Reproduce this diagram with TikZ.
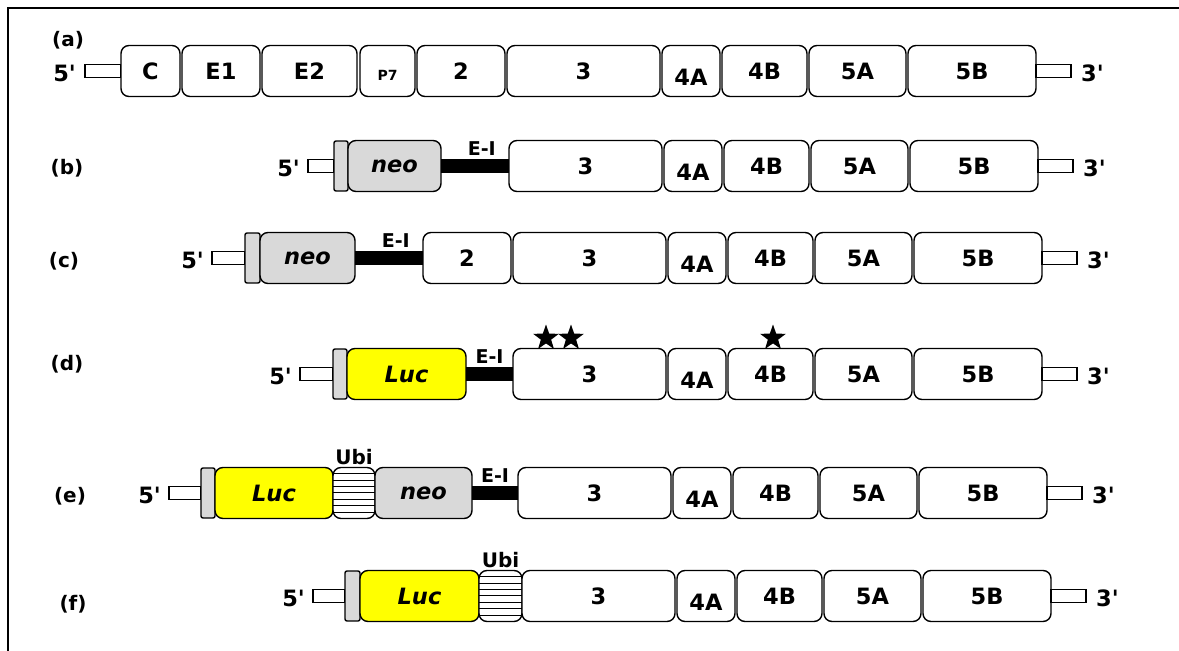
\documentclass[tikz,border=0pt]{standalone}
\usepackage{fontspec}
\setmainfont[Ligatures=TeXOff]{DejaVu Sans}
\usepackage{xcolor}
\usetikzlibrary{positioning,shapes.geometric}
\definecolor{lucyellow}{HTML}{FFFF00}
\definecolor{neogrey}{HTML}{D9D9D9}
\newcommand{\segfont}{\fontsize{22.5}{26}\selectfont\bfseries}
\newcommand{\dropped}[2]{\raisebox{-#1}[\height][\depth]{#2}}

\begin{document}
\begin{tikzpicture}[
    x=1pt, y=-1pt,
    seg/.style={draw, line width=1.4pt, rounded corners=8pt, minimum width=#1pt, minimum height=51pt, inner sep=0pt, outer sep=0pt, fill=white, font=\segfont},
    capbox/.style={draw, line width=1.4pt, rounded corners=2pt, minimum width=#1pt, minimum height=50pt, inner sep=0pt, outer sep=0pt, fill=neogrey},
    neo/.style={seg=#1, fill=neogrey, font=\segfont\itshape},
    luc/.style={seg=#1, fill=lucyellow, font=\segfont\itshape},
    ubi/.style={seg=#1, path picture={
        \foreach \k in {1,...,7}
          \draw[line width=1pt] ([yshift=\k*6.4pt]path picture bounding box.south west) -- ([yshift=\k*6.4pt]path picture bounding box.south east);}},
    tailbox/.style={draw, line width=1.4pt, minimum width=#1pt, minimum height=13pt, inner sep=0pt, outer sep=0pt, fill=white},
    endlbl/.style={font=\segfont, inner sep=0pt, yshift=-2pt},
    rowlbl/.style={font=\fontsize{20}{24}\selectfont\bfseries, inner sep=0pt},
    ei/.style={line width=14pt},
    eilbl/.style={font=\fontsize{19}{22}\selectfont\bfseries, inner sep=0pt, above=4pt},
    ubilbl/.style={font=\fontsize{20}{24}\selectfont\bfseries, inner sep=0pt},
    mut/.style={star, star points=5, star point ratio=2.5, fill=black, minimum size=27pt, inner sep=0pt},
]
\useasboundingbox (0,0) rectangle (1179,651);
\draw[line width=2pt] (8,651) -- (8,8) -- (1179,8);

% (a) full genome
\node[rowlbl] (la) at (68,40) {(a)};
\node[tailbox=36, anchor=west] (a5t) at (85,71) {};
\node[endlbl, left=9pt of a5t] (a5) {5'};
\node[seg=59, right=0pt of a5t] (aC) {C};
\node[seg=78, right=2pt of aC] (aE1) {E1};
\node[seg=95, right=2pt of aE1] (aE2) {E2};
\node[seg=55, right=3pt of aE2, font=\fontsize{14}{16}\selectfont\bfseries] (aP7) {\dropped{4pt}{P7}};
\node[seg=88, right=2pt of aP7] (a2) {2};
\node[seg=153, right=2pt of a2] (a3) {3};
\node[seg=58, right=2pt of a3] (a4A) {\dropped{6pt}{4A}};
\node[seg=85, right=2pt of a4A] (a4B) {4B};
\node[seg=97, right=2pt of a4B] (a5A) {5A};
\node[seg=128, right=2pt of a5A] (a5B) {5B};
\node[tailbox=35, right=0pt of a5B] (a3t) {};
\node[endlbl, right=10pt of a3t] (a3p) {3'};

% (b) neo replicon
\node[rowlbl] (lb) at (67,168) {(b)};
\node[tailbox=26, anchor=west] (b5t) at (308,166) {};
\node[endlbl, left=8pt of b5t] (b5) {5'};
\node[capbox=14, right=0pt of b5t] (bcap) {};
\node[neo=93, right=0pt of bcap] (bneo) {neo};
\node[seg=153, right=68pt of bneo] (b3) {3};
\node[seg=58, right=2pt of b3] (b4A) {\dropped{6pt}{4A}};
\node[seg=85, right=2pt of b4A] (b4B) {4B};
\node[seg=97, right=2pt of b4B] (b5A) {5A};
\node[seg=128, right=2pt of b5A] (b5B) {5B};
\node[tailbox=35, right=0pt of b5B] (b3t) {};
\node[endlbl, right=10pt of b3t] (b3p) {3'};
\draw[ei] (bneo) -- (b3) node[eilbl, pos=0.6] {E-I};

% (c) neo replicon with NS2
\node[rowlbl] (lc) at (64,261) {(c)};
\node[tailbox=33, anchor=west] (c5t) at (212,258) {};
\node[endlbl, left=8pt of c5t] (c5) {5'};
\node[capbox=15, right=0pt of c5t] (ccap) {};
\node[neo=95, right=0pt of ccap] (cneo) {neo};
\node[seg=88, right=68pt of cneo] (c2) {2};
\node[seg=153, right=2pt of c2] (c3) {3};
\node[seg=58, right=2pt of c3] (c4A) {\dropped{6pt}{4A}};
\node[seg=85, right=2pt of c4A] (c4B) {4B};
\node[seg=97, right=2pt of c4B] (c5A) {5A};
\node[seg=128, right=2pt of c5A] (c5B) {5B};
\node[tailbox=35, right=0pt of c5B] (c3t) {};
\node[endlbl, right=10pt of c3t] (c3p) {3'};
\draw[ei] (cneo) -- (c2) node[eilbl, pos=0.6] {E-I};

% (d) luciferase replicon
\node[rowlbl] (ld) at (67,364) {(d)};
\node[tailbox=33, anchor=west] (d5t) at (300,374) {};
\node[endlbl, left=8pt of d5t] (d5) {5'};
\node[capbox=14, right=0pt of d5t] (dcap) {};
\node[luc=119, right=0pt of dcap] (dluc) {Luc};
\node[seg=153, right=47pt of dluc] (d3) {3};
\node[seg=58, right=2pt of d3] (d4A) {\dropped{6pt}{4A}};
\node[seg=85, right=2pt of d4A] (d4B) {4B};
\node[seg=97, right=2pt of d4B] (d5A) {5A};
\node[seg=128, right=2pt of d5A] (d5B) {5B};
\node[tailbox=35, right=0pt of d5B] (d3t) {};
\node[endlbl, right=10pt of d3t] (d3p) {3'};
\draw[ei] (dluc) -- (d3) node[eilbl, pos=0.5] {E-I};
\node[mut] (dst1) at (546,338) {};
\node[mut] (dst2) at (571,338) {};
\node[mut] (dst3) at (773,338) {};

% (e) luc-ubi-neo replicon
\node[rowlbl] (le) at (70,496) {(e)};
\node[tailbox=32, anchor=west] (e5t) at (169,493) {};
\node[endlbl, left=8pt of e5t] (e5) {5'};
\node[capbox=14, right=0pt of e5t] (ecap) {};
\node[luc=118, right=0pt of ecap] (eluc) {Luc};
\node[ubi=42, right=0pt of eluc] (eubi) {};
\node[ubilbl, above=3pt of eubi] (eubil) {Ubi};
\node[neo=97, right=0pt of eubi] (eneo) {neo};
\node[seg=153, right=46pt of eneo] (e3) {3};
\node[seg=58, right=2pt of e3] (e4A) {\dropped{6pt}{4A}};
\node[seg=85, right=2pt of e4A] (e4B) {4B};
\node[seg=97, right=2pt of e4B] (e5A) {5A};
\node[seg=128, right=2pt of e5A] (e5B) {5B};
\node[tailbox=35, right=0pt of e5B] (e3t) {};
\node[endlbl, right=10pt of e3t] (e3p) {3'};
\draw[ei] (eneo) -- (e3) node[eilbl, pos=0.5] {E-I};

% (f) luc-ubi replicon
\node[rowlbl] (lf) at (73,604) {(f)};
\node[tailbox=32, anchor=west] (f5t) at (313,596) {};
\node[endlbl, left=8pt of f5t] (f5) {5'};
\node[capbox=15, right=0pt of f5t] (fcap) {};
\node[luc=119, right=0pt of fcap] (fluc) {Luc};
\node[ubi=43, right=0pt of fluc] (fubi) {};
\node[ubilbl, above=3pt of fubi] (fubil) {Ubi};
\node[seg=153, right=0pt of fubi] (f3) {3};
\node[seg=58, right=2pt of f3] (f4A) {\dropped{6pt}{4A}};
\node[seg=85, right=2pt of f4A] (f4B) {4B};
\node[seg=97, right=2pt of f4B] (f5A) {5A};
\node[seg=128, right=2pt of f5A] (f5B) {5B};
\node[tailbox=35, right=0pt of f5B] (f3t) {};
\node[endlbl, right=10pt of f3t] (f3p) {3'};

\end{tikzpicture}
\end{document}
